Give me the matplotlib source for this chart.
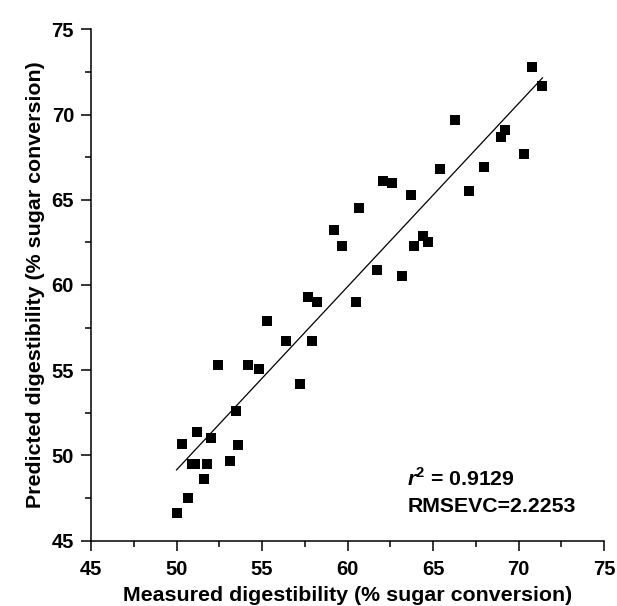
import numpy as np
import matplotlib
matplotlib.use("Agg")
from matplotlib import pyplot as plt
from matplotlib.ticker import MultipleLocator

plt.rcParams['font.family'] = ['Liberation Sans', 'DejaVu Sans']
plt.rcParams['font.weight'] = 'bold'
plt.rcParams['mathtext.fontset'] = 'custom'
plt.rcParams['mathtext.rm'] = 'Liberation Sans:bold'
plt.rcParams['mathtext.bf'] = 'Liberation Sans:bold'
plt.rcParams['mathtext.bfit'] = 'Liberation Sans:italic:bold'

# values
measured = [70.8, 71.4, 66.3, 69.2, 69.0, 70.3, 65.4, 68.0, 62.1, 62.6,
            63.7, 67.1, 64.4, 63.9, 64.7, 63.2, 60.7, 59.2, 59.7, 61.7,
            57.7, 58.2, 60.5, 55.3, 56.4, 57.9, 52.4, 54.2, 54.8, 57.2,
            53.5, 51.2, 52.0, 50.3, 53.6, 50.9, 51.1, 51.8, 53.1, 51.6,
            50.7, 50.0]
predicted = [72.8, 71.7, 69.7, 69.1, 68.7, 67.7, 66.8, 66.9, 66.1, 66.0,
             65.3, 65.5, 62.9, 62.3, 62.5, 60.5, 64.5, 63.2, 62.3, 60.9,
             59.3, 59.0, 59.0, 57.9, 56.7, 56.7, 55.3, 55.3, 55.1, 54.2,
             52.6, 51.4, 51.0, 50.7, 50.6, 49.5, 49.5, 49.5, 49.7, 48.6,
             47.5, 46.6]
stats_text = [r'$\mathbfit{r}^{2}$ = 0.9129', 'RMSEVC=2.2253']

X = np.array(measured)
Y = np.array(predicted)

fig = plt.figure(figsize=(6.17, 6.06), dpi=100)
ax = fig.add_axes([0.1475, 0.1078, 0.8315, 0.8439])

ax.plot(X, Y, 's', color='black', markersize=7.2, markeredgewidth=0)

# least squares line over the measured range
k, q = np.polyfit(X, Y, 1)
xl = np.array([X.min(), X.max()])
ax.plot(xl, k * xl + q, color='black', linewidth=0.9)

ax.set_xlim(45, 75)
ax.set_ylim(45, 75)
ax.xaxis.set_major_locator(MultipleLocator(5))
ax.yaxis.set_major_locator(MultipleLocator(5))
ax.xaxis.set_minor_locator(MultipleLocator(2.5))
ax.yaxis.set_minor_locator(MultipleLocator(2.5))

for s in ['top', 'right']:
    ax.spines[s].set_visible(False)
for s in ['left', 'bottom']:
    ax.spines[s].set_linewidth(1.1)

ax.tick_params(which='major', direction='out', length=7.2, width=1.1,
               labelsize=14.5, pad=5)
ax.tick_params(axis='x', which='major', pad=6.5)
ax.tick_params(which='minor', direction='out', length=4.3, width=1.1)

ax.set_xlabel('Measured digestibility (% sugar conversion)', fontsize=15.4,
              fontweight='bold', labelpad=5)
ax.set_ylabel('Predicted digestibility (% sugar conversion)', fontsize=15.4,
              fontweight='bold', labelpad=5)

ax.text(63.5, 48.2, stats_text[0], fontsize=15.3, fontweight='bold')
ax.text(63.5, 46.7, stats_text[1], fontsize=15.3, fontweight='bold')

fig.savefig('out.png', dpi=100)
